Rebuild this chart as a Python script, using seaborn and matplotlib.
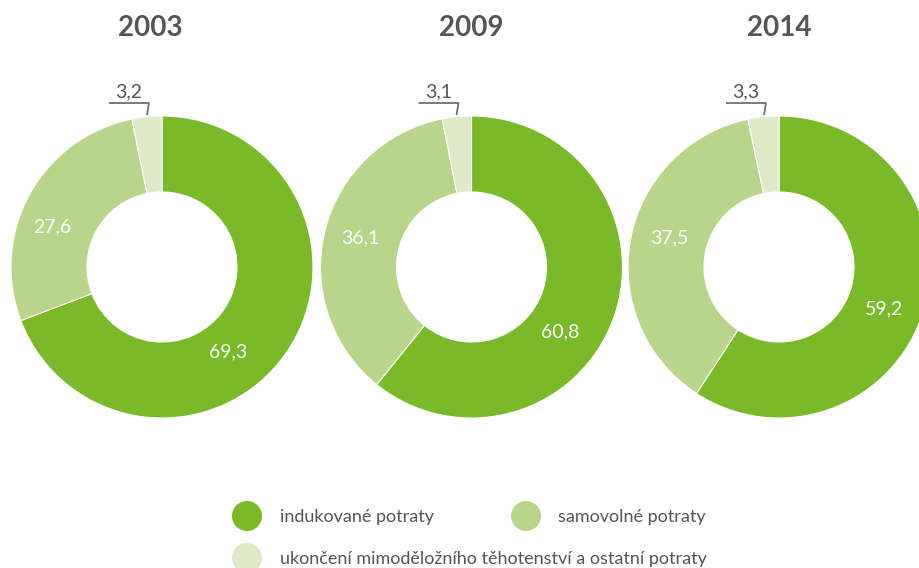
import matplotlib
matplotlib.use("Agg")
import matplotlib.pyplot as plt
from matplotlib.patches import Circle
import seaborn as sns

# Struktura potratů podle druhu (%)
years = ["2003", "2009", "2014"]
categories = [
    "indukované potraty",
    "samovolné potraty",
    "ukončení mimoděložního těhotenství a ostatní potraty",
]
induced = [69.3, 60.8, 59.2]
spontaneous = [27.6, 36.1, 37.5]
other = [3.2, 3.1, 3.3]

sns.set_theme(style="white")
plt.rcParams["font.family"] = ["Lato", "DejaVu Sans"]

palette = sns.color_palette(["#7ab929", "#b8d58b", "#dde9c8"])
text_gray = "#555555"

W, H = 919, 568
fig = plt.figure(figsize=(W / 100, H / 100), dpi=100)
ax = fig.add_axes([0, 0, 1, 1])


def py(y):
    """Pixel row (from top) to axis y."""
    return H - y


def fmt(v):
    return f"{v:.1f}".replace(".", ",")


centers_x = [162, 471.5, 779]
center_y = 267
r_out, ring = 151, 76

# label offsets (dx, dy in pixels, y downward) for the two large segments
big_label_offsets = [
    [(66, 85), (-110, -40)],
    [(89, 65), (-111, -29)],
    [(105, 42), (-110, -29)],
]

for i, (yr, cx) in enumerate(zip(years, centers_x)):
    vals = [induced[i], spontaneous[i], other[i]]
    ax.pie(
        vals,
        colors=palette,
        startangle=90,
        counterclock=False,
        radius=r_out,
        center=(cx, py(center_y)),
        wedgeprops=dict(width=ring, edgecolor="white", linewidth=0.8),
    )
    # year title
    ax.text(cx - 12 if i == 0 else cx, py(28), yr, ha="center", va="center",
            fontsize=20, fontweight="bold", color=text_gray)
    # values inside the ring
    for (dx, dy), v in zip(big_label_offsets[i], vals[:2]):
        ax.text(cx + dx, py(center_y + dy), fmt(v), ha="center", va="center",
                fontsize=14, color="white")
    # small segment: value above the ring with a leader line
    ax.plot([cx - 53, cx - 13, cx - 15], [py(103), py(103), py(115)],
            color="#707070", lw=1.3, solid_capstyle="butt")
    ax.text(cx - 33, py(92), fmt(vals[2]), ha="center", va="center",
            fontsize=14, color=text_gray)

# legend
legend_items = [
    (247, 516, 280, categories[0], palette[0]),
    (526, 516, 558, categories[1], palette[1]),
    (247, 558, 280, categories[2], palette[2]),
]
for mx, my, tx, label, col in legend_items:
    ax.add_patch(Circle((mx, py(my)), 15, color=col, lw=0))
    ax.text(tx, py(my + 1), label, ha="left", va="center",
            fontsize=13, color=text_gray)

ax.set_xlim(0, W)
ax.set_ylim(0, H)
ax.set_aspect("equal")
ax.axis("off")

fig.savefig("out.png", dpi=100, facecolor="white")
